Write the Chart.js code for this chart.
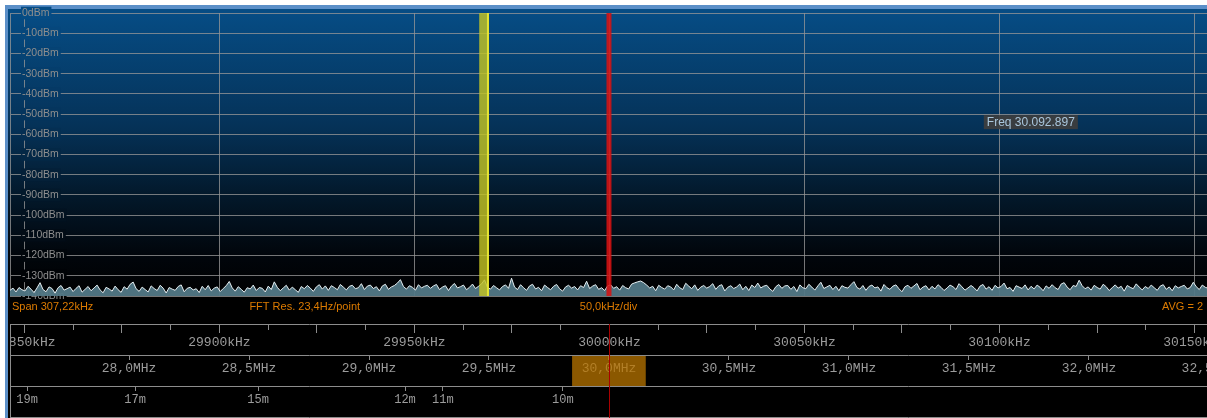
<!DOCTYPE html>
<html>
<head>
<meta charset="utf-8">
<script src="https://cdn.jsdelivr.net/npm/chart.js@4.4.1/dist/chart.umd.min.js"></script>
<style>
  html, body { margin: 0; padding: 0; background: #fff; }
  canvas { display: block; }
</style>
</head>
<body>
<canvas id="fft" width="1207" height="418"></canvas>
<script>
"use strict";

// --- span / scales ---
const SPAN_START = 29846.3;   // kHz
const SPAN_END = 30153.2;     // kHz
const BIN_STEP = 0.77;        // kHz per plotted bin
const MHZ_START = 27.504;
const MHZ_END = 32.492;

const kHzLabels = [29850, 29900, 29950, 30000, 30050, 30100, 30150];
const kHzTickStep = 12.5;
const mhzLabels = [28.0, 28.5, 29.0, 29.5, 30.0, 30.5, 31.0, 31.5, 32.0, 32.5];
const bandNames = ['19m', '17m', '15m', '12m', '11m', '10m'];
const bandPos = [27.575, 28.025, 28.538, 29.15, 29.308, 29.808];   // on the MHz scale

const yellowBand = [29966.6, 29969.1];
const tunedFreq = 30000;
const readoutFreq = 30092.897;
const readoutLevel = -54;
const readoutText = 'Freq 30.092.897';
const infoTexts = ['Span 307,22kHz', 'FFT Res. 23,4Hz/point', '50,0kHz/div', 'AVG = 2'];

// noise floor, dBm
const levels = [
  -137.2,-136.1,-138.0,-135.8,-136.9,-137.5,-135.2,-136.6,-138.3,-136.0,-133.4,-136.8,-137.9,-135.5,-136.3,-138.6,-135.9,-134.8,-137.1,-136.4,
  -135.6,-137.8,-136.2,-134.9,-138.1,-136.7,-135.3,-137.4,-136.0,-134.6,-137.0,-138.4,-135.7,-136.5,-137.6,-135.1,-136.9,-138.2,-135.4,-136.6,
  -134.2,-133.1,-136.4,-137.7,-135.6,-136.8,-138.0,-135.0,-136.3,-137.3,-134.7,-136.1,-138.5,-135.8,-136.6,-137.2,-135.3,-134.5,-137.9,-136.2,
  -135.7,-137.0,-136.4,-138.3,-135.2,-136.9,-134.8,-137.5,-136.1,-135.5,-137.8,-136.3,-134.9,-132.8,-136.0,-137.6,-135.4,-136.7,-138.1,-135.9,
  -136.5,-134.6,-137.3,-135.8,-136.2,-138.0,-135.1,-136.8,-133.0,-135.7,-137.4,-136.0,-134.7,-137.1,-135.6,-136.9,-138.2,-135.3,-136.4,-134.8,
  -136.1,-137.7,-135.5,-134.4,-136.6,-135.0,-137.2,-134.9,-135.8,-136.9,-134.3,-135.6,-137.0,-135.2,-134.7,-136.4,-135.9,-133.9,-136.8,-135.1,
  -134.6,-136.3,-135.4,-137.5,-135.0,-134.2,-136.7,-135.5,-134.8,-133.6,-131.9,-135.3,-136.6,-134.9,-135.7,-137.1,-134.4,-136.0,-135.2,-134.7,
  -136.2,-135.0,-134.3,-136.8,-135.6,-134.9,-137.3,-135.1,-133.8,-136.0,-135.4,-134.6,-136.9,-135.7,-134.1,-136.3,-135.2,-134.0,-132.0,-135.8,
  -136.6,-134.8,-135.9,-137.0,-135.3,-134.5,-136.2,-131.2,-135.6,-136.8,-134.4,-135.9,-137.2,-135.0,-134.2,-136.5,-135.7,-137.4,-134.6,-135.8,
  -136.9,-135.2,-134.3,-136.4,-137.6,-135.5,-134.7,-136.1,-135.3,-137.0,-134.9,-135.8,-132.7,-136.3,-135.1,-134.4,-136.7,-135.9,-137.3,-135.0,
  -134.5,-136.2,-135.4,-137.1,-134.8,-135.9,-136.5,-134.1,-133.5,-133.0,-132.6,-133.4,-134.6,-136.0,-135.2,-137.4,-134.7,-135.8,-136.6,-134.9,
  -135.5,-137.0,-134.2,-135.9,-136.8,-133.7,-135.1,-136.4,-134.5,-137.2,-135.6,-134.8,-136.1,-135.3,-133.9,-136.7,-135.0,-134.4,-137.5,-135.7,
  -134.9,-136.3,-135.5,-134.1,-136.9,-135.2,-137.3,-134.6,-135.8,-133.6,-136.0,-135.1,-134.7,-136.5,-137.7,-135.4,-134.3,-136.2,-135.0,-134.8,
  -136.7,-135.3,-137.8,-134.5,-135.9,-136.4,-134.2,-135.6,-137.1,-135.0,-133.2,-136.3,-135.5,-134.7,-136.8,-135.2,-137.4,-134.9,-135.7,-136.1,
  -134.4,-132.9,-135.8,-136.6,-134.8,-137.2,-135.3,-134.6,-136.0,-135.5,-137.6,-134.3,-135.9,-136.7,-135.1,-134.5,-136.4,-137.9,-135.4,-134.7,
  -136.2,-135.0,-133.8,-136.9,-135.6,-134.9,-137.0,-135.2,-136.5,-134.4,-135.7,-137.3,-136.1,-134.6,-135.4,-136.8,-133.9,-135.5,-137.1,-136.0,
  -134.8,-135.9,-137.5,-135.1,-134.3,-136.6,-135.4,-137.2,-134.7,-136.0,-135.3,-133.6,-136.4,-135.8,-137.7,-134.9,-135.6,-136.3,-134.5,-137.0,
  -135.2,-136.5,-134.6,-135.7,-137.4,-135.0,-136.2,-134.4,-135.9,-136.8,-134.1,-133.4,-135.6,-136.9,-134.8,-135.3,-132.2,-134.9,-136.4,-135.5,
  -137.1,-134.7,-135.8,-136.6,-134.2,-135.4,-137.3,-135.9,-134.5,-136.1,-135.2,-137.6,-134.8,-135.7,-136.4,-134.0,-135.6,-137.0,-135.3,-136.3,
  -134.6,-135.9,-137.2,-135.1,-134.4,-136.7,-135.5,-137.4,-134.9,-136.0,-135.3,-134.7,-136.5,-135.8,-133.2,-135.4,-136.8,-134.6,-135.7,-136.2
];
const binFreqs = levels.map((_, i) => SPAN_START + i * BIN_STEP);

// --- colours ---
const GRID = 'rgba(150,150,150,0.78)';
const STRIP = '#8c8c8c';
const STRIP_TEXT = '#9c9c9c';
const ORANGE = '#dd7b00';
const BORDER_BLUE = '#5b8fc8';
const bgStops = [[0, [6, 76, 132]], [0.4, [5, 50, 88]], [0.65, [3, 24, 42]], [0.85, [1, 6, 12]], [1, [0, 0, 0]]];

function bgColorAt(f) {
  f = Math.max(0, Math.min(1, f));
  for (let i = 1; i < bgStops.length; i++) {
    const [f1, c1] = bgStops[i];
    const [f0, c0] = bgStops[i - 1];
    if (f <= f1) {
      const t = (f - f0) / (f1 - f0);
      const c = c0.map((v, k) => Math.round(v + (c1[k] - v) * t));
      return `rgb(${c.join(',')})`;
    }
  }
  return '#000';
}

function fitH(h) {
  return s => { s.height = h; s.paddingLeft = 0; s.paddingRight = 0; };
}

function stripAxis(weight, height, min, max, ticks, extra) {
  return Object.assign({
    type: 'linear', axis: 'x', position: 'bottom', weight,
    min, max,
    afterBuildTicks: s => { s.ticks = ticks.map(v => ({ value: v })); },
    afterFit: fitH(height),
    grid: { display: false, drawOnChartArea: false },
    border: { display: false },
    ticks: { display: false }
  }, extra || {});
}

const kHzTicks = [];
for (let f = kHzLabels[0]; f <= kHzLabels[kHzLabels.length - 1]; f += kHzTickStep) kHzTicks.push(f);

const panelPlugin = {
  id: 'panel',
  beforeDraw(chart) {
    const { ctx, chartArea: a, width: W, height: H } = chart;
    ctx.save();
    ctx.fillStyle = '#ffffff';
    ctx.fillRect(0, 0, W, H);
    ctx.fillStyle = BORDER_BLUE;
    ctx.fillRect(5, 5, W - 5, H - 5);
    const g = ctx.createLinearGradient(0, a.top, 0, a.bottom);
    bgStops.forEach(([f, c]) => g.addColorStop(f, `rgb(${c.join(',')})`));
    ctx.fillStyle = g;
    ctx.fillRect(8, 9, W - 8, a.bottom - 9);
    ctx.fillStyle = '#000';
    ctx.fillRect(8, a.bottom, W - 8, H - a.bottom);
    ctx.restore();
  },
  afterDraw(chart) {
    const { ctx, chartArea: a, scales: s, height: H } = chart;
    const x = s.x, y = s.y;
    ctx.save();

    // cut the first kHz label at the left edge like the original
    const top = s.xk.top;
    ctx.fillStyle = '#ffffff'; ctx.fillRect(0, top, 5, H - top);
    ctx.fillStyle = BORDER_BLUE; ctx.fillRect(5, top, 3, H - top);
    ctx.fillStyle = '#000'; ctx.fillRect(8, top, a.left - 8, H - top);
    ctx.fillStyle = STRIP; ctx.fillRect(a.left, top, 1, H - top);

    // visible span on the MHz strip
    const bx1 = s.xm.getPixelForValue(SPAN_START / 1000);
    const bx2 = s.xm.getPixelForValue(SPAN_END / 1000);
    ctx.fillStyle = 'rgba(185,118,0,0.75)';
    ctx.fillRect(bx1, s.xm.top + 1, bx2 - bx1, s.xm.height - 1);

    // filter band (yellow)
    const y1 = x.getPixelForValue(yellowBand[0]);
    const y2 = x.getPixelForValue(yellowBand[1]);
    ctx.fillStyle = 'rgba(195,195,35,0.82)';
    ctx.fillRect(y1, a.top, y2 - y1, a.bottom - a.top);
    ctx.fillStyle = 'rgba(235,235,50,0.9)';
    ctx.fillRect(y2 - 2, a.top, 2, a.bottom - a.top);

    // tuned frequency (red)
    const rx = x.getPixelForValue(tunedFreq);
    ctx.fillStyle = 'rgba(215,18,18,0.88)';
    ctx.fillRect(rx - 3, a.top, 5, a.bottom - a.top);
    ctx.fillStyle = '#a80000';
    ctx.fillRect(Math.floor(rx), top, 1, H - top);

    // info row
    ctx.font = '11px "Liberation Sans", Arial, sans-serif';
    ctx.fillStyle = ORANGE;
    ctx.textBaseline = 'middle';
    const ty = a.bottom + 11;
    ctx.textAlign = 'left';
    ctx.fillText(infoTexts[0], a.left + 2, ty);
    ctx.fillText(infoTexts[1], a.left + (a.right - a.left) * 0.2, ty);
    ctx.textAlign = 'center';
    ctx.fillText(infoTexts[2], (a.left + a.right) / 2, ty);
    ctx.textAlign = 'right';
    ctx.fillText(infoTexts[3], a.right - 4, ty);

    // cursor readout
    ctx.font = '12px "Liberation Sans", Arial, sans-serif';
    const bx = x.getPixelForValue(readoutFreq) + 12;
    const by = y.getPixelForValue(readoutLevel);
    const tw = ctx.measureText(readoutText).width;
    ctx.fillStyle = 'rgba(62,62,62,0.92)';
    ctx.fillRect(bx, by - 7, tw + 6, 14);
    ctx.fillStyle = '#a9c6dc';
    ctx.textAlign = 'left';
    ctx.fillText(readoutText, bx + 3, by + 0.5);

    ctx.restore();
  }
};

new Chart(document.getElementById('fft'), {
  type: 'line',
  data: {
    datasets: [{
      data: levels.map((v, i) => ({ x: binFreqs[i], y: v })),
      borderColor: '#e6eff2',
      borderWidth: 1,
      backgroundColor: 'rgba(82,120,134,0.95)',
      fill: 'start',
      pointRadius: 0,
      pointHoverRadius: 0,
      tension: 0
    }]
  },
  options: {
    responsive: false,
    animation: false,
    events: [],
    layout: { autoPadding: false, padding: { left: 10, top: 13, right: 0, bottom: 0 } },
    plugins: { legend: { display: false }, tooltip: { enabled: false } },
    scales: {
      x: {
        type: 'linear', position: 'bottom', weight: 0, z: 1,
        min: SPAN_START, max: SPAN_END,
        afterBuildTicks: s => { s.ticks = kHzLabels.map(v => ({ value: v })); },
        afterFit: fitH(0),
        ticks: { display: false },
        grid: { color: GRID, drawTicks: false },
        border: { display: false }
      },
      y: {
        type: 'linear', position: 'left',
        min: -140, max: 0,
        ticks: {
          stepSize: 10,
          mirror: true,
          padding: 12,
          color: '#8e8e8e',
          font: { family: '"Liberation Sans", Arial, sans-serif', size: 10.5 },
          callback: v => v + 'dBm',
          showLabelBackdrop: true,
          backdropColor: c => bgColorAt(-c.tick.value / 140),
          backdropPadding: { left: 1, right: 2, top: 0, bottom: 0 }
        },
        grid: { color: GRID, drawTicks: false },
        border: { color: GRID },
        afterFit: s => { s.width = 0; s.paddingTop = 0; s.paddingBottom = 0; }
      },
      xs: stripAxis(1, 28, SPAN_START, SPAN_END, kHzLabels),
      xk: stripAxis(2, 31, SPAN_START, SPAN_END, kHzTicks, {
        grid: {
          display: true, drawOnChartArea: false, tickLength: 9, tickColor: STRIP,
          tickBorderDash: c => (c.tick && c.tick.value % 25 === 0) ? [] : [5, 40]
        },
        border: { display: true, color: STRIP },
        ticks: {
          display: true, autoSkip: false, maxRotation: 0, padding: 3, color: STRIP_TEXT,
          font: { family: '"Liberation Mono", "Courier New", monospace', size: 13, lineHeight: 1 },
          callback: v => (v % 50 === 0) ? v + 'kHz' : ''
        }
      }),
      xm: stripAxis(3, 31, MHZ_START, MHZ_END, mhzLabels, {
        grid: { display: true, drawOnChartArea: false, tickLength: 5, tickColor: STRIP },
        border: { display: true, color: STRIP },
        ticks: {
          display: true, autoSkip: false, maxRotation: 0, padding: 2, color: STRIP_TEXT,
          font: { family: '"Liberation Mono", "Courier New", monospace', size: 13, lineHeight: 1 },
          callback: v => v.toFixed(1).replace('.', ',') + 'MHz'
        }
      }),
      xb: stripAxis(4, 31, MHZ_START, MHZ_END, bandPos, {
        grid: { display: true, drawOnChartArea: false, tickLength: 5, tickColor: STRIP },
        border: { display: true, color: STRIP },
        ticks: {
          display: true, autoSkip: false, maxRotation: 0, padding: 3, color: STRIP_TEXT,
          font: { family: '"Liberation Mono", "Courier New", monospace', size: 12, lineHeight: 1 },
          callback: (v, i) => bandNames[i]
        }
      }),
      xe: stripAxis(5, 1, MHZ_START, MHZ_END, mhzLabels, {
        border: { display: true, color: STRIP }
      })
    }
  },
  plugins: [panelPlugin]
});
</script>
</body>
</html>
